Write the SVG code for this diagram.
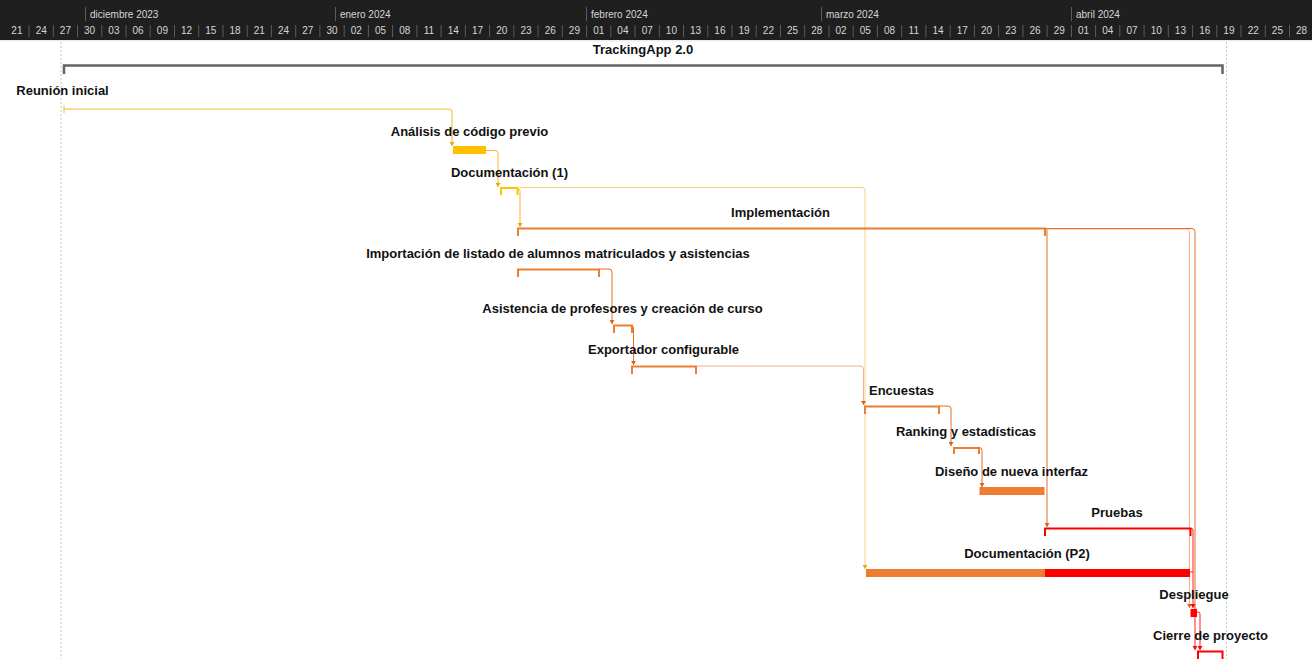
<svg xmlns="http://www.w3.org/2000/svg" width="1312" height="659" viewBox="0 0 1312 659">
<style>
.hdr{font-family:"Liberation Sans",Arial,sans-serif;font-size:10px;fill:#d6d6d6}
.day{text-anchor:middle}
.lbl{font-family:"Liberation Sans",Arial,sans-serif;font-size:13px;font-weight:bold;fill:#111;text-anchor:middle}
.brY{fill:none;stroke:#FFC000;stroke-width:2}
.brO{fill:none;stroke:#ED7D31;stroke-width:2}
.brR{fill:none;stroke:#FF0000;stroke-width:2}
.cY{fill:none;stroke:#F2B632;stroke-width:1}
.cYl{fill:none;stroke:#F7D27E;stroke-width:1}
.cO{fill:none;stroke:#E0702A;stroke-width:1}
.cOl{fill:none;stroke:#F3B08A;stroke-width:1}
.cR{fill:none;stroke:#FF2020;stroke-width:1}
.dot{stroke:#c4c4c4;stroke-width:1;stroke-dasharray:2,2}
</style>
<defs>
<marker id="aY" viewBox="0 0 4 5" refX="4" refY="2.5" markerWidth="4" markerHeight="5" markerUnits="userSpaceOnUse" orient="auto"><path d="M0,0 L4,2.5 L0,5 z" fill="#E8A800"/></marker>
<marker id="aO" viewBox="0 0 4 5" refX="4" refY="2.5" markerWidth="4" markerHeight="5" markerUnits="userSpaceOnUse" orient="auto"><path d="M0,0 L4,2.5 L0,5 z" fill="#D9631C"/></marker>
<marker id="aR" viewBox="0 0 4 5" refX="4" refY="2.5" markerWidth="4" markerHeight="5" markerUnits="userSpaceOnUse" orient="auto"><path d="M0,0 L4,2.5 L0,5 z" fill="#FF0000"/></marker>
</defs>
<rect x="0" y="0" width="1312" height="659" fill="#ffffff"/>
<g id="timescale">
<rect x="0" y="0" width="1312" height="40" fill="#1f1f1f"/>
<rect x="0" y="40" width="1312" height="1.5" fill="#ececec"/>
<path d="M85.5,7V21M335.5,7V21M586.5,7V21M821.5,7V21M1071.5,7V21" stroke="#5c5c5c" stroke-width="1"/>
<text class="hdr" x="90" y="18">diciembre 2023</text>
<text class="hdr" x="340" y="18">enero 2024</text>
<text class="hdr" x="591" y="18">febrero 2024</text>
<text class="hdr" x="826" y="18">marzo 2024</text>
<text class="hdr" x="1076" y="18">abril 2024</text>
<path d="M29,25V37M53.3,25V37M77.5,25V37M101.8,25V37M126,25V37M150.2,25V37M174.5,25V37M198.7,25V37M223,25V37M247.2,25V37M271.4,25V37M295.7,25V37M319.9,25V37M344.2,25V37M368.4,25V37M392.6,25V37M416.9,25V37M441.1,25V37M465.4,25V37M489.6,25V37M513.8,25V37M538.1,25V37M562.3,25V37M586.6,25V37M610.8,25V37M635,25V37M659.3,25V37M683.5,25V37M707.8,25V37M732,25V37M756.2,25V37M780.5,25V37M804.7,25V37M829,25V37M853.2,25V37M877.4,25V37M901.7,25V37M925.9,25V37M950.2,25V37M974.4,25V37M998.6,25V37M1022.9,25V37M1047.1,25V37M1071.4,25V37M1095.6,25V37M1119.8,25V37M1144.1,25V37M1168.3,25V37M1192.6,25V37M1216.8,25V37M1241,25V37M1265.3,25V37M1289.5,25V37" stroke="#5c5c5c" stroke-width="1"/>
<g class="hdr day">
<text x="16.9" y="34">21</text><text x="41.2" y="34">24</text><text x="65.4" y="34">27</text><text x="89.6" y="34">30</text>
<text x="113.9" y="34">03</text><text x="138.1" y="34">06</text><text x="162.4" y="34">09</text><text x="186.6" y="34">12</text><text x="210.8" y="34">15</text><text x="235.1" y="34">18</text><text x="259.3" y="34">21</text><text x="283.6" y="34">24</text><text x="307.8" y="34">27</text><text x="332" y="34">30</text>
<text x="356.3" y="34">02</text><text x="380.5" y="34">05</text><text x="404.8" y="34">08</text><text x="429" y="34">11</text><text x="453.2" y="34">14</text><text x="477.5" y="34">17</text><text x="501.7" y="34">20</text><text x="526" y="34">23</text><text x="550.2" y="34">26</text><text x="574.4" y="34">29</text>
<text x="598.7" y="34">01</text><text x="622.9" y="34">04</text><text x="647.2" y="34">07</text><text x="671.4" y="34">10</text><text x="695.6" y="34">13</text><text x="719.9" y="34">16</text><text x="744.1" y="34">19</text><text x="768.4" y="34">22</text><text x="792.6" y="34">25</text><text x="816.8" y="34">28</text>
<text x="841.1" y="34">02</text><text x="865.3" y="34">05</text><text x="889.6" y="34">08</text><text x="913.8" y="34">11</text><text x="938" y="34">14</text><text x="962.3" y="34">17</text><text x="986.5" y="34">20</text><text x="1010.8" y="34">23</text><text x="1035" y="34">26</text><text x="1059.2" y="34">29</text>
<text x="1083.5" y="34">01</text><text x="1107.7" y="34">04</text><text x="1132" y="34">07</text><text x="1156.2" y="34">10</text><text x="1180.4" y="34">13</text><text x="1204.7" y="34">16</text><text x="1228.9" y="34">19</text><text x="1253.2" y="34">22</text><text x="1277.4" y="34">25</text><text x="1301.6" y="34">28</text>
</g>
</g>
<g id="gridlines">
<line class="dot" x1="61" y1="42" x2="61" y2="659"/>
<line class="dot" x1="1226.5" y1="42" x2="1226.5" y2="659"/>
</g>
<g id="connectors">
<path class="cY" d="M64,109 H449 Q452,109 452,112 V146" marker-end="url(#aY)"/>
<path class="cY" d="M486,150.5 H495 Q498,150.5 498,153.5 V187" marker-end="url(#aY)"/>
<path class="cYl" d="M519,187.5 H862 Q865,187.5 865,190.5 V569" marker-end="url(#aY)"/>
<path class="cY" d="M518,189 Q520,189 520,191 V227" marker-end="url(#aY)"/>
<path class="cO" d="M599,269 H609 Q612,269 612,272 V324" marker-end="url(#aO)"/>
<path class="cO" d="M631,325.5 Q633.5,325.5 633.5,328 V365" marker-end="url(#aO)"/>
<path class="cOl" d="M697,366 H860 Q863.5,366 863.5,369.5 V405" marker-end="url(#aO)"/>
<path class="cO" d="M939,406 H948 Q951,406 951,409 V446" marker-end="url(#aO)"/>
<path class="cO" d="M979,447.5 Q982,447.5 982,450.5 V487" marker-end="url(#aO)"/>
<path class="cO" d="M1045,228.5 Q1047,228.5 1047,230.5 V527" marker-end="url(#aO)"/>
<path class="cOl" d="M1045,229 H1187 Q1189.5,229 1189.5,231.5 V608" marker-end="url(#aO)"/>
<path class="cO" d="M1045,228.5 H1192 Q1195,228.5 1195,231.5 V605"/>
<path class="cR" d="M1191,528.5 H1192 Q1193,528.5 1193,530 V608" marker-end="url(#aR)"/>
<path class="cR" d="M1190,572 H1193"/>
<path class="cR" d="M1195,605 V650" marker-end="url(#aR)"/>
<path class="cR" d="M1197,612 H1198 Q1200,612 1200,614 V650" marker-end="url(#aR)"/>
</g>
<g id="project">
<text class="lbl" x="643" y="54">TrackingApp 2.0</text>
<path d="M64,74 V65.5 H1222.5 V74" fill="none" stroke="#646464" stroke-width="2.5"/>
</g>
<g id="reunion">
<text class="lbl" x="62.5" y="95">Reunión inicial</text>
<line x1="64" y1="105.5" x2="64" y2="113" stroke="#F2B632" stroke-width="1"/>
</g>
<g id="analisis">
<text class="lbl" x="469.5" y="136">Análisis de código previo</text>
<rect x="453" y="146" width="33" height="8" fill="#FFC000"/>
</g>
<g id="documentacion1">
<text class="lbl" x="509.5" y="177">Documentación (1)</text>
<path class="brY" d="M501,195 V188 H517.5 V195"/>
</g>
<g id="implementacion">
<text class="lbl" x="780.5" y="217">Implementación</text>
<path class="brO" d="M518,236 V228.5 H1045 V236"/>
</g>
<g id="importacion">
<text class="lbl" x="558" y="258">Importación de listado de alumnos matriculados y asistencias</text>
<path class="brO" d="M518,277 V269.5 H599 V277"/>
</g>
<g id="asistencia">
<text class="lbl" x="622.5" y="313">Asistencia de profesores y creación de curso</text>
<path class="brO" d="M614,333 V325.5 H632 V333"/>
</g>
<g id="exportador">
<text class="lbl" x="663.5" y="354">Exportador configurable</text>
<path class="brO" d="M632,374 V366.5 H696 V374"/>
</g>
<g id="encuestas">
<text class="lbl" x="901.5" y="395">Encuestas</text>
<path class="brO" d="M865,414 V406.5 H939 V414"/>
</g>
<g id="ranking">
<text class="lbl" x="966" y="436">Ranking y estadísticas</text>
<path class="brO" d="M954,454 V448 H979 V454"/>
</g>
<g id="disenio">
<text class="lbl" x="1011.5" y="476">Diseño de nueva interfaz</text>
<rect x="979.5" y="487" width="65" height="8" fill="#ED7D31"/>
</g>
<g id="pruebas">
<text class="lbl" x="1117" y="517">Pruebas</text>
<path class="brR" d="M1045,536 V528.5 H1190.5 V536"/>
</g>
<g id="documentacionP2">
<text class="lbl" x="1027" y="558">Documentación (P2)</text>
<rect x="866" y="569" width="179" height="8" fill="#ED7D31"/>
<rect x="1045" y="569" width="145" height="8" fill="#FF0000"/>
</g>
<g id="despliegue">
<text class="lbl" x="1194" y="599">Despliegue</text>
<rect x="1190.5" y="609" width="6.5" height="8" fill="#FF0000"/>
</g>
<g id="cierre">
<text class="lbl" x="1210.5" y="640">Cierre de proyecto</text>
<path class="brR" d="M1198,659 V651.5 H1222.5 V659"/>
</g>
</svg>
